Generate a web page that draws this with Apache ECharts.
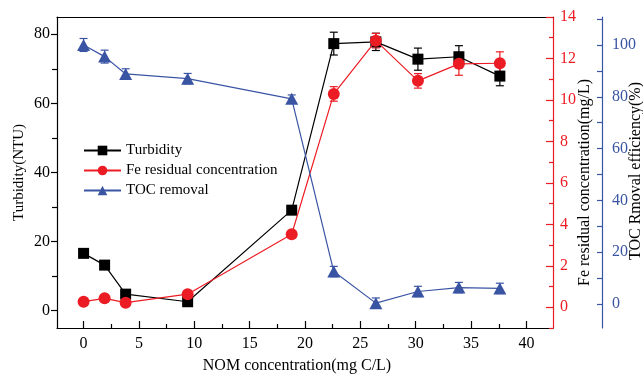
<!DOCTYPE html>
<html>
<head>
<meta charset="utf-8">
<script src="https://cdn.jsdelivr.net/npm/echarts@6/dist/echarts.min.js"></script>
<style>html,body{margin:0;padding:0;background:#fff}#c{width:643px;height:374px}</style>
</head>
<body>
<div id="c"></div>
<script>
// ---- data ----
const xValues = [0, 1.9, 3.8, 9.4, 18.8, 22.6, 26.4, 30.2, 33.9, 37.6];
const turbidity = [16.6, 13.2, 4.8, 2.6, 29.1, 77.3, 77.8, 72.8, 73.5, 67.9];
const turbidityErr = [0.6, 0.6, 0.6, 0.6, 0.8, 3.3, 2.5, 3.2, 3.2, 2.8];
const feResidual = [0.27, 0.43, 0.22, 0.63, 3.52, 10.29, 12.86, 10.92, 11.74, 11.77];
const feErr = [0.1, 0.1, 0.1, 0.1, 0.1, 0.35, 0.35, 0.35, 0.55, 0.55];
const tocRemoval = [100, 95.5, 88.8, 87, 79.2, 12.5, 0.3, 4.8, 6.3, 6];
const tocErr = [2.5, 2.5, 2, 2, 1.5, 2, 2, 2, 2, 2];

const xMajor = [0, 5, 10, 15, 20, 25, 30, 35, 40];
const xMinor = [2.5, 7.5, 12.5, 17.5, 22.5, 27.5, 32.5, 37.5];
const leftMajor = [0, 20, 40, 60, 80];
const leftMinor = [10, 30, 50, 70];
const redMajor = [0, 2, 4, 6, 8, 10, 12, 14];
const redMinor = [-1, 1, 3, 5, 7, 9, 11, 13];
const blueMajor = [0, 20, 40, 60, 80, 100];
const blueMinor = [-10, 10, 30, 50, 70, 90, 110];

const BLACK = '#000000', RED = '#ec1c24', BLUE = '#3a54a4';
const FONT = 'Liberation Serif';

const X_MIN = -2.4, X_MAX = 42.4;
const L_MIN = -5, L_MAX = 85;
const R_MIN = -1, R_MAX = 14;
const B_MIN = -9.3, B_MAX = 110.8;

function yAx(opts) {
  return Object.assign({
    type: 'value', splitLine: { show: false }, axisLine: { onZero: false }
  }, opts);
}

function errSeries(values, errs, yIdx, color) {
  return {
    type: 'custom', yAxisIndex: yIdx, z: 1, silent: true,
    data: xValues.map((x, i) => [x, values[i] - errs[i], values[i] + errs[i]]),
    encode: { x: 0, y: [1, 2] },
    renderItem: function (params, api) {
      const lo = api.coord([api.value(0), api.value(1)]);
      const hi = api.coord([api.value(0), api.value(2)]);
      const w = 4;
      const st = { stroke: color, lineWidth: 1.2 };
      return {
        type: 'group', children: [
          { type: 'line', shape: { x1: lo[0], y1: lo[1], x2: hi[0], y2: hi[1] }, style: st },
          { type: 'line', shape: { x1: lo[0] - w, y1: lo[1], x2: lo[0] + w, y2: lo[1] }, style: st },
          { type: 'line', shape: { x1: hi[0] - w, y1: hi[1], x2: hi[0] + w, y2: hi[1] }, style: st }
        ]
      };
    }
  };
}

const chart = echarts.init(document.getElementById('c'), null, { renderer: 'canvas' });
const nameStyle = { color: BLACK, fontFamily: FONT, fontSize: 15 };
const nameStyle16 = { color: BLACK, fontFamily: FONT, fontSize: 16 };
chart.setOption({
  animation: false,
  backgroundColor: '#fff',
  grid: { left: 57, right: 90, top: 17, bottom: 46, containLabel: false, outerBoundsMode: 'none' },
  legend: {
    orient: 'vertical', left: 83, top: 143, itemWidth: 37, itemHeight: 12, itemGap: 5, padding: 0,
    textStyle: { fontFamily: FONT, fontSize: 15, color: BLACK },
    data: ['Turbidity', 'Fe residual concentration', 'TOC removal']
  },
  xAxis: [
    {
      type: 'value', min: X_MIN, max: X_MAX, position: 'bottom',
      axisLine: { onZero: false, lineStyle: { color: BLACK, width: 1.2 } },
      axisTick: { inside: true, length: 7, customValues: xMajor, lineStyle: { color: BLACK, width: 1.2 } },
      axisLabel: { customValues: xMajor, color: BLACK, fontFamily: FONT, fontSize: 16, margin: 8 },
      splitLine: { show: false },
      name: 'NOM concentration(mg C/L)', nameLocation: 'middle', nameGap: 30, nameMoveOverlap: false,
      nameTextStyle: Object.assign({}, nameStyle16, { padding: [0, 16, 0, 0] })
    },
    {
      type: 'value', min: X_MIN, max: X_MAX, position: 'bottom',
      axisLine: { show: false, onZero: false },
      axisTick: { inside: true, length: 4, customValues: xMinor, lineStyle: { color: BLACK, width: 1.2 } },
      axisLabel: { show: false }, splitLine: { show: false }
    },
    {
      type: 'value', min: X_MIN, max: X_MAX, position: 'top',
      axisLine: { onZero: false, lineStyle: { color: BLACK, width: 1.2 } },
      axisTick: { show: false }, axisLabel: { show: false }, splitLine: { show: false }
    }
  ],
  yAxis: [
    yAx({
      min: L_MIN, max: L_MAX, position: 'left',
      axisLine: { onZero: false, lineStyle: { color: BLACK, width: 1.2 } },
      axisTick: { length: 6, customValues: leftMajor, lineStyle: { color: BLACK, width: 1.2 } },
      axisLabel: { customValues: leftMajor, color: BLACK, fontFamily: FONT, fontSize: 16, margin: 7 },
      name: 'Turbidity(NTU)', nameLocation: 'middle', nameGap: 30, nameRotate: 90, nameMoveOverlap: false,
      nameTextStyle: nameStyle
    }),
    yAx({
      min: L_MIN, max: L_MAX, position: 'left',
      axisLine: { show: false, onZero: false },
      axisTick: { length: 5, customValues: leftMinor, lineStyle: { color: BLACK, width: 1.2 } },
      axisLabel: { show: false }
    }),
    yAx({
      min: R_MIN, max: R_MAX, position: 'right',
      axisLine: { onZero: false, lineStyle: { color: RED, width: 1.2 } },
      axisTick: { inside: true, length: 7, customValues: redMajor, lineStyle: { color: RED, width: 1.2 } },
      axisLabel: { customValues: redMajor, color: RED, fontFamily: FONT, fontSize: 16, margin: 7 },
      name: 'Fe residual concentration(mg/L)', nameLocation: 'middle', nameGap: 24, nameRotate: 90,
      nameMoveOverlap: false,
      nameTextStyle: Object.assign({}, nameStyle16, { padding: [0, 20, 0, 0] })
    }),
    yAx({
      min: R_MIN, max: R_MAX, position: 'right',
      axisLine: { show: false, onZero: false },
      axisTick: { inside: true, length: 4, customValues: redMinor, lineStyle: { color: RED, width: 1.2 } },
      axisLabel: { show: false }
    }),
    yAx({
      min: B_MIN, max: B_MAX, position: 'right', offset: 49,
      axisLine: { onZero: false, lineStyle: { color: BLUE, width: 1.2 } },
      axisTick: { inside: true, length: 5, customValues: blueMajor, lineStyle: { color: BLUE, width: 1.2 } },
      axisLabel: { customValues: blueMajor, color: BLUE, fontFamily: FONT, fontSize: 16, margin: 10 },
      name: 'TOC Rmoval efficiency(%)', nameLocation: 'middle', nameGap: 26, nameRotate: 90,
      nameMoveOverlap: false,
      nameTextStyle: Object.assign({}, nameStyle16, { padding: [0, 0, 0, 3] })
    }),
    yAx({
      min: B_MIN, max: B_MAX, position: 'right', offset: 49,
      axisLine: { show: false, onZero: false },
      axisTick: { inside: true, length: 5, customValues: blueMinor, lineStyle: { color: BLUE, width: 1.2 } },
      axisLabel: { show: false }
    })
  ],
  series: [
    errSeries(turbidity, turbidityErr, 0, BLACK),
    errSeries(feResidual, feErr, 2, RED),
    errSeries(tocRemoval, tocErr, 4, BLUE),
    {
      name: 'Turbidity', type: 'line', yAxisIndex: 0, z: 3,
      data: xValues.map((x, i) => [x, turbidity[i]]),
      symbol: 'rect', symbolSize: 11,
      lineStyle: { color: BLACK, width: 1.2 }, itemStyle: { color: BLACK }
    },
    {
      name: 'Fe residual concentration', type: 'line', yAxisIndex: 2, z: 4,
      data: xValues.map((x, i) => [x, feResidual[i]]),
      symbol: 'circle', symbolSize: 12,
      lineStyle: { color: RED, width: 1.2 }, itemStyle: { color: RED }
    },
    {
      name: 'TOC removal', type: 'line', yAxisIndex: 4, z: 5,
      data: xValues.map((x, i) => [x, tocRemoval[i]]),
      symbol: 'triangle', symbolSize: [13, 12],
      lineStyle: { color: BLUE, width: 1.2 }, itemStyle: { color: BLUE }
    }
  ]
});
</script>
</body>
</html>
